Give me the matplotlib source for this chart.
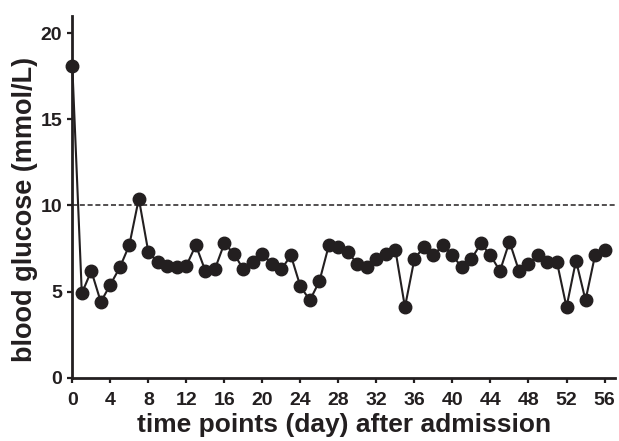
import matplotlib
matplotlib.use("Agg")
import matplotlib.pyplot as plt

plt.rcParams['font.family'] = ['Liberation Sans', 'DejaVu Sans']

# blood glucose per day after admission
days = list(range(57))
glucose = [18.1, 4.9, 6.2, 4.4, 5.4, 6.4, 7.7, 10.4, 7.3, 6.7,
           6.5, 6.4, 6.5, 7.7, 6.2, 6.3, 7.8, 7.2, 6.3, 6.7,
           7.2, 6.6, 6.3, 7.1, 5.3, 4.5, 5.6, 7.7, 7.6, 7.3,
           6.6, 6.4, 6.9, 7.2, 7.4, 4.1, 6.9, 7.6, 7.1, 7.7,
           7.1, 6.4, 6.9, 7.8, 7.1, 6.2, 7.9, 6.2, 6.6, 7.1,
           6.7, 6.7, 4.1, 6.8, 4.5, 7.1, 7.4]
threshold = 10
xticks = list(range(0, 57, 4))
yticks = [0, 5, 10, 15, 20]

ink = '#231f20'

fig = plt.figure(figsize=(6.19, 4.41), dpi=100)
ax = fig.add_axes([0.1168, 0.1435, 0.8767, 0.8202])

ax.axhline(threshold, color=ink, lw=1.1, ls=(0, (3.3, 1.8)), zorder=1)
ax.plot(days, glucose, color=ink, lw=1.5, marker='o', ms=9,
        clip_on=False, zorder=3)

ax.set_xlim(0, 57.1)
ax.set_ylim(0, 21)
ax.set_xticks(xticks)
ax.set_yticks(yticks)

for s in ['top', 'right']:
    ax.spines[s].set_visible(False)
for s in ['left', 'bottom']:
    ax.spines[s].set_linewidth(2)
    ax.spines[s].set_color(ink)
ax.tick_params(width=1.6, length=3.8, labelsize=14, colors=ink)
ax.tick_params(axis='x', pad=6.5)
ax.tick_params(axis='y', pad=3.5)
for lab in ax.get_xticklabels() + ax.get_yticklabels():
    lab.set_fontweight('bold')

ax.set_xlabel('time points (day) after admission', fontsize=19, fontweight='bold',
              color=ink, labelpad=3)
ax.set_ylabel('blood glucose (mmol/L)', fontsize=19.5, fontweight='bold', color=ink)
ax.yaxis.set_label_coords(-0.063, 0.466)

fig.savefig('out.png', dpi=100)
